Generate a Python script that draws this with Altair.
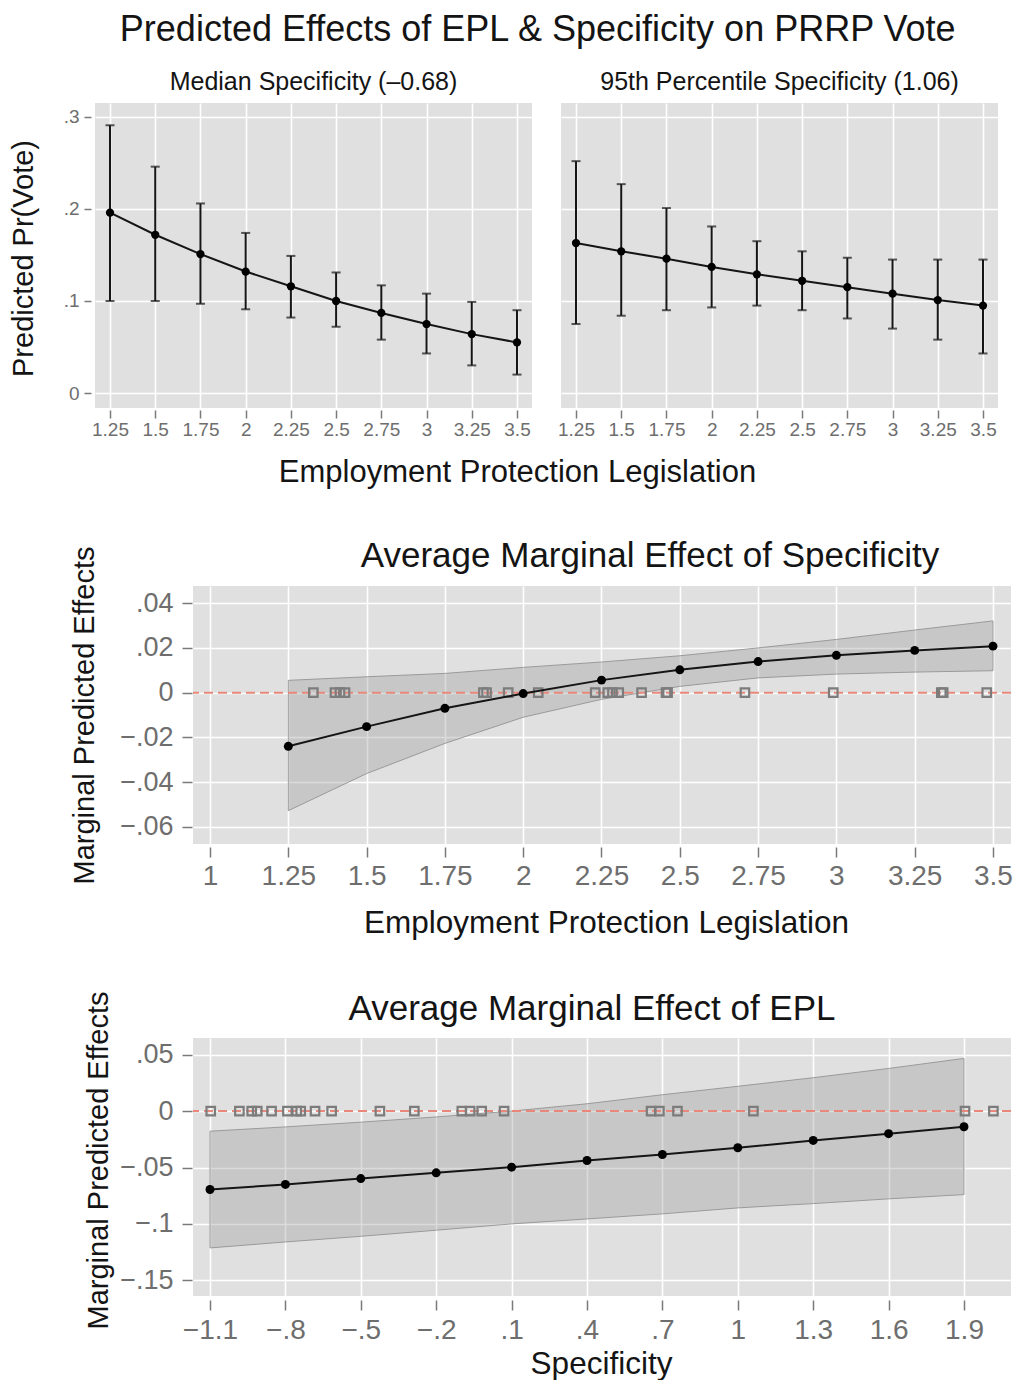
import altair as alt
import pandas as pd

FONT = "Liberation Sans"
TXT = "#141414"
LAB = "#6e6e6e"
BG = "#e0e0e0"

# ---------------- data ----------------
epl_grid = [1.25, 1.5, 1.75, 2.0, 2.25, 2.5, 2.75, 3.0, 3.25, 3.5]

med_pred = [0.196, 0.172, 0.151, 0.132, 0.116, 0.100, 0.087, 0.075, 0.064, 0.055]
med_lo = [0.100, 0.100, 0.097, 0.091, 0.082, 0.072, 0.058, 0.043, 0.030, 0.020]
med_hi = [0.291, 0.246, 0.206, 0.174, 0.149, 0.131, 0.117, 0.108, 0.099, 0.090]

p95_pred = [0.163, 0.154, 0.146, 0.137, 0.129, 0.122, 0.115, 0.108, 0.101, 0.095]
p95_lo = [0.075, 0.084, 0.090, 0.093, 0.095, 0.090, 0.081, 0.070, 0.058, 0.043]
p95_hi = [0.252, 0.227, 0.201, 0.181, 0.165, 0.154, 0.147, 0.145, 0.145, 0.145]

ame_spec = [-0.0240, -0.0152, -0.0070, -0.0004, 0.0056, 0.0102, 0.0139, 0.0167, 0.0189, 0.0208]
ame_spec_lo = [-0.0528, -0.0362, -0.0227, -0.0110, -0.0030, 0.0028, 0.0066, 0.0083, 0.0092, 0.0098]
ame_spec_hi = [0.0055, 0.0071, 0.0086, 0.0113, 0.0137, 0.0165, 0.0200, 0.0238, 0.0280, 0.0321]
epl_rug = [1.330, 1.399, 1.415, 1.431, 1.873, 1.883, 1.952, 2.048, 2.230, 2.270,
           2.285, 2.305, 2.378, 2.456, 2.461, 2.708, 2.990, 3.335, 3.341, 3.480]

spec_grid = [-1.1, -0.8, -0.5, -0.2, 0.1, 0.4, 0.7, 1.0, 1.3, 1.6, 1.9]
ame_epl = [-0.0695, -0.0650, -0.0598, -0.0547, -0.0497, -0.0438, -0.0385, -0.0325, -0.0260, -0.0200, -0.0139]
ame_epl_lo = [-0.1213, -0.1160, -0.1110, -0.1056, -0.1000, -0.0956, -0.0911, -0.0858, -0.0820, -0.0778, -0.0740]
ame_epl_hi = [-0.0178, -0.0140, -0.0098, -0.0052, 0.0000, 0.0065, 0.0145, 0.0220, 0.0296, 0.0378, 0.0467]
spec_rug = [-1.097, -0.983, -0.934, -0.912, -0.855, -0.792, -0.755, -0.739, -0.682, -0.616,
            -0.424, -0.287, -0.098, -0.065, -0.019, 0.070, 0.655, 0.688, 0.760, 1.062,
            1.904, 2.017]

top_x_ticks = epl_grid
top_y_ticks = [0.0, 0.1, 0.2, 0.3]
mid_x_ticks = [1.0, 1.25, 1.5, 1.75, 2.0, 2.25, 2.5, 2.75, 3.0, 3.25, 3.5]
mid_y_ticks = [-0.06, -0.04, -0.02, 0.0, 0.02, 0.04]
bot_x_ticks = spec_grid
bot_y_ticks = [-0.15, -0.1, -0.05, 0.0, 0.05]

main_title = "Predicted Effects of EPL & Specificity on PRRP Vote"
hdr_left = "Median Specificity (\u20130.68)"
hdr_right = "95th Percentile Specificity (1.06)"
epl_title = "Employment Protection Legislation"
ame_title = "Marginal Predicted Effects"

LBL = "replace(replace(format(datum.value, '~g'), '0.', '.'), '-', '\u2212')"


def axis(values, **kw):
    base = dict(values=values, labelExpr=LBL, grid=True, gridColor="white", gridWidth=1.6,
                domain=False, tickColor="#7a7a7a", tickWidth=1.5, labelFont=FONT,
                labelColor=LAB, labelFlush=False, labelOverlap=False, titleFont=FONT,
                titleColor=TXT, titleFontWeight="normal", titleBaseline="alphabetic")
    base.update(kw)
    return alt.Axis(**base)


def ttl(text, size, **kw):
    return alt.TitleParams(text=text, font=FONT, fontSize=size, fontWeight="normal",
                           color=TXT, anchor="middle", baseline="alphabetic", **kw)


# ---------------- top panels ----------------
def top_panel(pred, lo, hi, header, first):
    df = pd.DataFrame({"epl": epl_grid, "pred": pred, "lo": lo, "hi": hi})
    xs = alt.Scale(domain=[1.167, 3.583], nice=False, zero=False)
    ys = alt.Scale(domain=[-0.0163, 0.3152], nice=False, zero=False)
    if first:
        xa = axis(top_x_ticks, offset=2, tickSize=8, labelPadding=17, labelFontSize=19,
                  labelBaseline="alphabetic", title=epl_title, titleFontSize=31,
                  titleX=422, titleY=71)
        ya = axis(top_y_ticks, offset=4, tickSize=7, labelPadding=5, labelFontSize=19,
                  title="Predicted Pr(Vote)", titleFontSize=29, titleX=-59, titleY=155)
    else:
        xa = axis(top_x_ticks, offset=2, tickSize=8, labelPadding=17, labelFontSize=19,
                  labelBaseline="alphabetic", title=None)
        ya = axis(top_y_ticks, labels=False, ticks=False, title=None)

    def X():
        return alt.X("epl:Q", scale=xs, axis=xa)

    def Y(f):
        return alt.Y(f + ":Q", scale=ys, axis=ya)

    base = alt.Chart(df)
    rule = base.mark_rule(color="#151515", strokeWidth=2).encode(x=X(), y=Y("lo"), y2="hi:Q")
    cap_lo = base.mark_tick(orient="horizontal", color="#151515", size=9, thickness=2).encode(x=X(), y=Y("lo"))
    cap_hi = base.mark_tick(orient="horizontal", color="#151515", size=9, thickness=2).encode(x=X(), y=Y("hi"))
    line = base.mark_line(color="#151515", strokeWidth=2).encode(x=X(), y=Y("pred"))
    pts = base.mark_circle(size=68, color="#000000", opacity=1).encode(x=X(), y=Y("pred"))
    return alt.layer(rule, cap_lo, cap_hi, line, pts).properties(
        width=437, height=305, title=ttl(header, 25, frame="group", offset=10, dy=22),
        view=alt.ViewBackground(fill=BG, strokeWidth=0))


# ---------------- marginal-effect panels ----------------
def ame_panel(xv, est, lo, hi, rug, xdom, ydom, xticks, yticks, xa_kw, ya_kw, title, tkw):
    df = pd.DataFrame({"x": xv, "est": est, "lo": lo, "hi": hi})
    rdf = pd.DataFrame({"x": rug, "z": [0.0] * len(rug)})
    zdf = pd.DataFrame({"z": [0.0]})
    xs = alt.Scale(domain=xdom, nice=False, zero=False)
    ys = alt.Scale(domain=ydom, nice=False, zero=False)
    xa = axis(xticks, labelFontSize=28, labelBaseline="alphabetic", titleFontSize=31.5, **xa_kw)
    ya = axis(yticks, labelFontSize=27, title=ame_title, titleFontSize=29, **ya_kw)

    def X():
        return alt.X("x:Q", scale=xs, axis=xa)

    def Y(f):
        return alt.Y(f + ":Q", scale=ys, axis=ya)

    band = alt.Chart(df).mark_area(fill="#9a9a9a", fillOpacity=0.36, stroke="#939393",
                                   strokeWidth=1, strokeOpacity=0.9).encode(x=X(), y=Y("lo"), y2="hi:Q")
    zero = alt.Chart(zdf).mark_rule(color="#e8877a", strokeDash=[9, 5], strokeWidth=2).encode(y=Y("z"))
    rugm = alt.Chart(rdf).mark_point(shape="square", filled=False, color="#7c7c7c", strokeWidth=2.2,
                                     size=72, opacity=1).encode(x=X(), y=Y("z"))
    line = alt.Chart(df).mark_line(color="#151515", strokeWidth=2).encode(x=X(), y=Y("est"))
    pts = alt.Chart(df).mark_circle(size=80, color="#000000", opacity=1).encode(x=X(), y=Y("est"))
    return alt.layer(band, zero, rugm, line, pts).properties(
        width=818, height=258, title=ttl(title, 35, frame="group", offset=0, **tkw),
        view=alt.ViewBackground(fill=BG, strokeWidth=0))


def spacer(w, h):
    return alt.Chart(pd.DataFrame({"s": [0]})).mark_point(opacity=0).encode(
        x=alt.X("s:Q", axis=None), y=alt.Y("s:Q", axis=None)).properties(width=w, height=h)


tl = top_panel(med_pred, med_lo, med_hi, hdr_left, True)
tr = top_panel(p95_pred, p95_lo, p95_hi, hdr_right, False)

mid = ame_panel(
    epl_grid, ame_spec, ame_spec_lo, ame_spec_hi, epl_rug,
    [0.9457, 3.5575], [-0.0677, 0.0477], mid_x_ticks, mid_y_ticks,
    dict(offset=3, tickSize=10, labelPadding=27, title=epl_title, titleX=413, titleY=85),
    dict(offset=1, tickSize=10, labelPadding=9, titleX=-99, titleY=129),
    "Average Marginal Effect of Specificity", dict(dx=48, dy=56))

bot = ame_panel(
    spec_grid, ame_epl, ame_epl_lo, ame_epl_hi, spec_rug,
    [-1.1676, 2.087], [-0.1639, 0.0648], bot_x_ticks, bot_y_ticks,
    dict(offset=4, tickSize=10, labelPadding=28, title="Specificity", titleX=408, titleY=73),
    dict(offset=1, tickSize=10, labelPadding=9, titleX=-85, titleY=122),
    "Average Marginal Effect of EPL", dict(dx=-10, dy=64))

row1 = alt.hconcat(tl, tr, spacing=29, bounds="flush")
row2 = alt.hconcat(spacer(98, 10), mid, spacing=0, bounds="flush")
row3 = alt.hconcat(spacer(98, 10), bot, spacing=0, bounds="flush")

chart = alt.vconcat(
    row1, row2, row3,
    spacing=52,
    title=ttl(main_title, 36, offset=0, dx=27, dy=7),
).properties(
    padding={"left": 1, "top": 4, "right": 0, "bottom": 0}
).configure(font=FONT, background="white").configure_view(strokeWidth=0)

chart.save("out.html", embed_options={"renderer": "svg", "actions": False})
